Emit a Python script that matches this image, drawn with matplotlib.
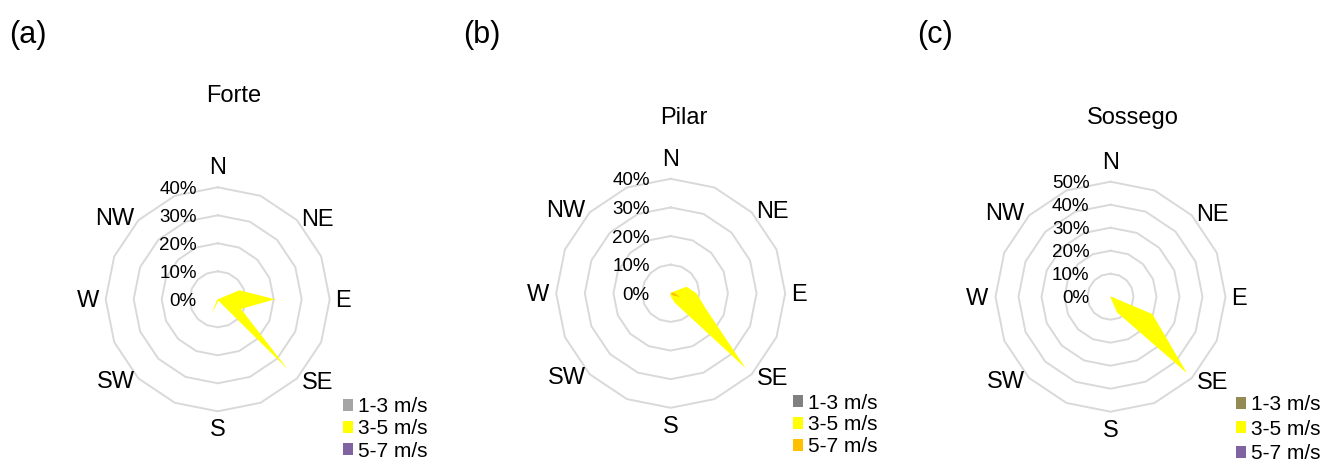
import matplotlib.pyplot as plt
import numpy as np
from matplotlib.patches import Patch

plt.rcParams['font.family'] = ['Liberation Sans', 'DejaVu Sans']

directions = ["N", "NNE", "NE", "ENE", "E", "ESE", "SE", "SSE",
              "S", "SSW", "SW", "WSW", "W", "WNW", "NW", "NNW"]
speed_classes = ["1-3 m/s", "3-5 m/s", "5-7 m/s"]

#             N  NNE NE   ENE  E     ESE   SE    SSE  S    SSW  SW   WSW W  WNW NW NNW
forte_13   = [0, 0,  0,   0,   0,    0,    0,    0,   5.7, 0,   0,   0,  0, 0,  0, 0]
forte_35   = [0, 0,  0,   8.4, 20.5, 9.0,  35.3, 0.5, 1.0, 5.8, 0.3, 0,  0, 0,  0, 0]
forte_57   = [0, 0,  0,   0,   0,    0,    0,    0,   0,   0,   0,   0,  0, 0,  0, 0]
pilar_13   = [0, 0,  0,   1.0, 2.0,  3.0,  4.0,  1.0, 0,   0,   0,   0,  0, 0,  0, 0]
pilar_35   = [0, 0,  0.5, 6.0, 9.0,  13.0, 37.0, 3.5, 1.0, 0.3, 0,   0,  0, 0,  0, 0]
pilar_57   = [0, 0,  0,   0.5, 1.5,  3.5,  1.0,  0,   0,   0,   0,   0,  0, 0,  0, 0]
sossego_13 = [0, 0,  0,   0,   0,    2.0,  4.0,  1.0, 0,   0,   0,   0,  0, 0,  0, 0]
sossego_35 = [0, 0,  0,   0,   0.3,  19.7, 47.0, 7.4, 0.3, 0,   0,   0,  0, 0,  0, 0]
sossego_57 = [0, 0,  0,   0,   0,    0,    0,    0,   0,   0,   0,   0,  0, 0,  0, 0]

W, H = 1327, 461
fig = plt.figure(figsize=(W / 100, H / 100), dpi=100)

theta = np.deg2rad(np.arange(len(directions)) * 22.5)
theta_c = np.append(theta, theta[0])

# offsets (pixels) of the compass labels from the outer ring vertex
label_off = {"N": (0, 19), "NE": (21, 0.5), "E": (13.5, -2), "SE": (20.5, -5),
             "S": (0, -19), "SW": (-23, -4), "W": (-18, -2), "NW": (-24, 1.5)}


def radar(cx, cy, R, rmax, series, colors, title, title_xy, tag, tag_xy,
          leg_xy, leg_space):
    ax = fig.add_axes([(cx - R) / W, (H - cy - R) / H, 2 * R / W, 2 * R / H],
                      projection='polar')
    ax.set_theta_zero_location('N')
    ax.set_theta_direction(-1)
    ax.set_ylim(0, rmax)
    ax.axis('off')

    for r in range(10, rmax + 1, 10):
        ax.plot(theta_c, [r] * len(theta_c), color='#D9D9D9', lw=1.4,
                zorder=1, clip_on=False)
    for r in range(0, rmax + 1, 10):
        ax.annotate(f"{r}%", xy=(0, r), xytext=(-21, -2),
                    textcoords='offset pixels', ha='right', va='center',
                    fontsize=13.5)

    for vals, c in zip(series, colors):
        ax.fill(theta_c, list(vals) + [vals[0]], color=c, lw=0, zorder=2)

    for i, d in enumerate(directions):
        if d in label_off:
            ax.annotate(d, xy=(theta[i], rmax), xytext=label_off[d],
                        textcoords='offset pixels', ha='center', va='center',
                        fontsize=17)

    fig.text(title_xy[0] / W, 1 - title_xy[1] / H, title, ha='center',
             va='center', fontsize=17)
    fig.text(tag_xy[0] / W, 1 - tag_xy[1] / H, tag, ha='center',
             va='center', fontsize=22)

    handles = [Patch(facecolor=c, edgecolor='none') for c in colors]
    fig.legend(handles, speed_classes, loc='upper left',
               bbox_to_anchor=(leg_xy[0] / W, 1 - leg_xy[1] / H),
               frameon=False, fontsize=15, borderpad=0, borderaxespad=0,
               handlelength=0.5, handleheight=0.5, handletextpad=0.22,
               labelspacing=leg_space)
    return ax


radar(217.7, 299.3, 112, 40, [forte_13, forte_35, forte_57],
      ['#A5A5A5', '#FFFF00', '#8064A2'], "Forte", (234, 96), "(a)", (28, 35),
      (343, 397), 0.16)
radar(670.7, 293.3, 114.5, 40, [pilar_13, pilar_35, pilar_57],
      ['#808080', '#FFFF00', '#FFC000'], "Pilar", (684, 118), "(b)", (482, 35),
      (793, 393.5), 0.14)
radar(1110.5, 296.7, 115, 50, [sossego_13, sossego_35, sossego_57],
      ['#948A54', '#FFFF00', '#8064A2'], "Sossego", (1133, 118), "(c)", (935, 35),
      (1236, 395), 0.27)

plt.savefig("out.png", dpi=100)
